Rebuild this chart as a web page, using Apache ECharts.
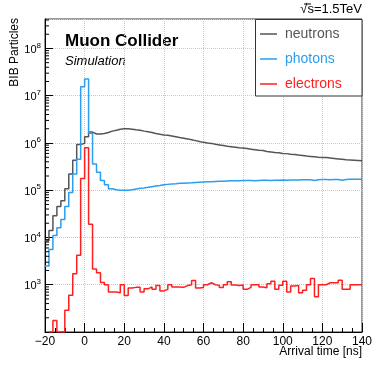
<!DOCTYPE html>
<html>
<head>
<meta charset="utf-8">
<script src="https://cdn.jsdelivr.net/npm/echarts@6/dist/echarts.min.js"></script>
<style>html,body{margin:0;padding:0;background:#fff;}#c{width:381px;height:370px;}</style>
</head>
<body>
<div id="c"></div>
<script>
// Histogram binning (ns)
var binStart = -20;
var binWidth = 2;
var xTicks = [-20, 0, 20, 40, 60, 80, 100, 120, 140];
var yMin = 100;
var yMax = 4.2e8;
var EMPTY = 100; // empty bins drawn on frame bottom

var neutrons = [
  8500, 14000, 29000, 45000, 60000, 107000, 220000, 430000, 930000, 980000,
  1350000, 1700000, 1550000, 1550000, 1580000, 1660000, 1780000, 1860000, 1950000, 2000000,
  2000000, 1950000, 1900000, 1860000, 1780000, 1720000, 1660000, 1580000, 1530000, 1480000,
  1450000, 1400000, 1350000, 1300000, 1260000, 1220000, 1170000, 1120000, 1070000, 1030000,
  1000000, 980000, 940000, 910000, 880000, 850000, 830000, 810000, 790000, 780000,
  760000, 740000, 720000, 700000, 690000, 660000, 645000, 630000, 620000, 600000,
  595000, 580000, 570000, 555000, 545000, 530000, 520000, 510000, 500000, 495000,
  490000, 480000, 470000, 460000, 450000, 440000, 435000, 430000, 425000, 420000
];
var photons = [
  2500, 5600, 11000, 16000, 24000, 45000, 90000, 220000, 450000, 15500000,
  22600000, 1600000, 360000, 240000, 160000, 130000, 107000, 102000, 100000, 100000,
  100000, 102000, 106000, 110000, 112000, 115000, 119000, 123000, 126000, 130000,
  133000, 136000, 137000, 140000, 141000, 143000, 144000, 146000, 148000, 150000,
  151000, 151000, 153000, 155000, 155000, 157000, 158000, 158000, 159000, 160000,
  160000, 161000, 159000, 161000, 162000, 162000, 161000, 163000, 163000, 164000,
  163000, 165000, 164000, 165000, 166000, 166000, 167000, 160000, 167000, 168000,
  168000, 167000, 169000, 168000, 162000, 169000, 170000, 170000, 171000, 171000
];
var electrons = [
  null, EMPTY, 176, EMPTY, EMPTY, 290, 600, 1700, 4200, 177000,
  790000, 19000, 2150, 1800, 1120, 1000, 700, 700, 680, 1000,
  594, 850, 880, 880, 700, 820, 900, 800, 960, 740,
  800, 1000, 900, 900, 880, 960, 1000, 1230, 850, 870,
  1000, 1100, 1000, 970, 870, 1000, 1150, 990, 960, 990,
  800, 880, 1000, 1000, 900, 860, 1050, 1180, 800, 970,
  1180, 700, 940, 970, 680, 760, 1000, 1350, 560, 1000,
  1000, 1100, 1100, 1100, 1240, 800, 800, 1000, 1000, 1000
];

var colNeutron = '#555555';
var colPhoton = '#2a9ef0';
var colElectron = '#ff1f1f';
var FONT = 'Liberation Sans, Arial, Helvetica, sans-serif';

function toSteps(vals) {
  var out = [];
  for (var i = 0; i < vals.length; i++) {
    out.push([binStart + i * binWidth, vals[i]]);
  }
  out.push([binStart + vals.length * binWidth, vals[vals.length - 1]]);
  return out;
}

var minorVals = [];
for (var k = 2; k <= 8; k++) {
  for (var m = 2; m <= 9; m++) {
    var v = m * Math.pow(10, k);
    if (v < yMax) minorVals.push([binStart, v]);
  }
}

var chart = echarts.init(document.getElementById('c'), null, {renderer: 'canvas'});
var option = {
  animation: false,
  backgroundColor: '#fff',
  grid: {left: 45, right: 19, top: 19, bottom: 38, show: true, borderColor: '#333', borderWidth: 1, backgroundColor: 'transparent'},
  xAxis: {
    type: 'value', min: -20, max: 140, interval: 20,
    axisLine: {show: true, onZero: false, lineStyle: {color: '#000', width: 1}},
    axisTick: {show: true, inside: true, length: 9, lineStyle: {color: '#000'}},
    minorTick: {show: true, splitNumber: 4, length: 4, lineStyle: {color: '#000'}},
    axisLabel: {color: '#000', fontFamily: FONT, fontSize: 12, margin: 4,
      formatter: function (v) { return v < 0 ? '\u2212' + Math.abs(v) : String(v); }},
    splitLine: {show: true, lineStyle: {color: '#c8c8c8', type: 'dotted', width: 1}}
  },
  yAxis: {
    type: 'log', logBase: 10, min: yMin, max: yMax, splitNumber: 7,
    axisLine: {show: true, onZero: false, lineStyle: {color: '#000', width: 1}},
    axisTick: {show: true, inside: true, length: 8, lineStyle: {color: '#000'}},
    axisLabel: {color: '#000', fontFamily: FONT, margin: 4, showMaxLabel: false,
      formatter: function (v) {
        var e = Math.log10(v);
        var r = Math.round(e);
        if (Math.abs(e - r) > 1e-6 || r < 3) return '';
        return '{b|10}{s|' + r + '}';
      },
      rich: {
        b: {fontFamily: FONT, fontSize: 11, color: '#000', lineHeight: 14, verticalAlign: 'bottom'},
        s: {fontFamily: FONT, fontSize: 8, color: '#000', lineHeight: 14, verticalAlign: 'top', padding: [0, 0, 5, 0]}
      }},
    splitLine: {show: true, lineStyle: {color: '#c8c8c8', type: 'dotted', width: 1}}
  },
  legend: {
    orient: 'vertical', left: 260, top: 26, icon: 'rect', itemWidth: 17, itemHeight: 1.5, itemGap: 9,
    padding: 0, selectedMode: false, z: 60,
    textStyle: {fontFamily: FONT, fontSize: 14, lineHeight: 16, padding: [0, 0, 0, 3]},
    data: [
      {name: 'neutrons', textStyle: {color: colNeutron}},
      {name: 'photons', textStyle: {color: colPhoton}},
      {name: 'electrons', textStyle: {color: colElectron}}
    ]
  },
  graphic: [
    {type: 'rect', shape: {x: 255.5, y: 19.5, width: 106.5, height: 76.5}, style: {fill: '#fff', stroke: '#333', lineWidth: 1}, z: 1, zlevel: 0},
    {type: 'text', left: 65, top: 33, style: {text: 'Muon Collider', font: 'bold 17px ' + FONT, fill: '#000'}},
    {type: 'text', left: 65, top: 55, style: {text: 'Simulation', font: 'italic 13px ' + FONT, fill: '#000'}},
    {type: 'text', x: 362, y: 3, style: {text: '\u221As=1.5TeV', font: '13px ' + FONT, fill: '#000', textAlign: 'right', textVerticalAlign: 'top'}},
    {type: 'line', shape: {x1: 304, y1: 4, x2: 311, y2: 4}, style: {stroke: '#000', lineWidth: 1}},
    {type: 'text', x: 362, y: 346, style: {text: 'Arrival time [ns]', font: '12px ' + FONT, fill: '#000', textAlign: 'right', textVerticalAlign: 'top'}},
    {type: 'text', x: 15, y: 18, rotation: Math.PI / 2, style: {text: 'BIB Particles', font: '12px ' + FONT, fill: '#000', textAlign: 'right', textVerticalAlign: 'middle'}}
  ],
  series: [
    {name: 'neutrons', type: 'line', step: 'end', symbol: 'none', data: toSteps(neutrons), lineStyle: {color: colNeutron, width: 1.5}, itemStyle: {color: colNeutron}, z: 3},
    {name: 'photons', type: 'line', step: 'end', symbol: 'none', data: toSteps(photons), lineStyle: {color: colPhoton, width: 1.5}, itemStyle: {color: colPhoton}, z: 4},
    {name: 'electrons', type: 'line', step: 'end', symbol: 'none', data: toSteps(electrons), lineStyle: {color: colElectron, width: 1.5}, itemStyle: {color: colElectron}, z: 5, connectNulls: false},
    {name: 'minorY', type: 'custom', data: minorVals, silent: true, clip: false, z: 6,
      renderItem: function (params, api) {
        var p = api.coord([api.value(0), api.value(1)]);
        return {type: 'line', shape: {x1: p[0], y1: p[1], x2: p[0] + 4, y2: p[1]}, style: {stroke: '#000', lineWidth: 1}};
      }}
  ]
};
chart.setOption(option);
</script>
</body>
</html>
